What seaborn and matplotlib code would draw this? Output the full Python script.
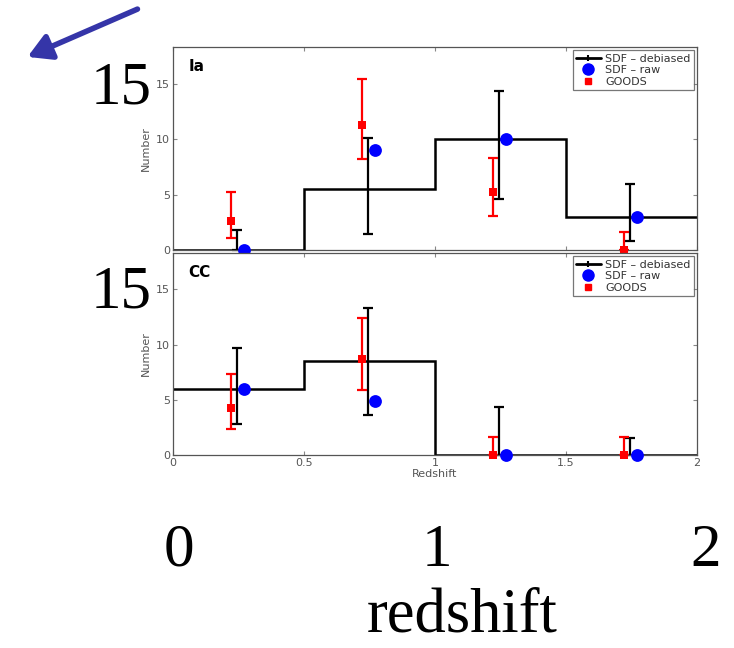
import matplotlib
matplotlib.use("Agg")
import matplotlib.pyplot as plt
import seaborn as sns
import numpy as np
import pandas as pd
from matplotlib.lines import Line2D

sns.set_style("ticks")
plt.rcParams['font.family'] = ['DejaVu Sans']

# ---- data ----
bin_edges = [0, 0.5, 1.0, 1.5, 2.0]
bin_centers = [0.25, 0.75, 1.25, 1.75]

# Ia panel
ia_debiased = [0.0, 5.5, 10.0, 3.0]
ia_deb_low = [0.0, 1.4, 4.6, 0.85]
ia_deb_high = [1.8, 10.1, 14.3, 5.95]
ia_raw = [0.0, 9.0, 10.0, 3.0]
ia_goods = [2.65, 11.3, 5.25, 0.0]
ia_goods_low = [1.1, 8.2, 3.1, 0.0]
ia_goods_high = [5.2, 15.4, 8.3, 1.6]

# CC panel
cc_debiased = [6.0, 8.5, 0.0, 0.0]
cc_deb_low = [2.85, 3.66, 0.0, 0.0]
cc_deb_high = [9.7, 13.35, 4.35, 1.56]
cc_raw = [6.0, 4.9, 0.0, 0.0]
cc_goods = [4.3, 8.7, 0.0, 0.0]
cc_goods_low = [2.35, 5.9, 0.0, 0.0]
cc_goods_high = [7.35, 12.45, 1.65, 1.65]

panel_labels = ["Ia", "CC"]
x_ticks = [0, 0.5, 1, 1.5, 2]
x_ticklabels = ["0", "0.5", "1", "1.5", "2"]
y_ticks = [0, 5, 10, 15]
legend_labels = ["SDF \u2013 debiased", "SDF \u2013 raw", "GOODS"]
overlay_x_labels = ["0", "1", "2"]

W, H = 734, 648
fig = plt.figure(figsize=(W / 100, H / 100), dpi=100)

def fx(px):
    return px / W

def fy(py):
    return 1 - py / H

ax_top = fig.add_axes([fx(173), fy(250), fx(697) - fx(173), fy(47) - fy(250)])
ax_bot = fig.add_axes([fx(173), fy(455), fx(697) - fx(173), fy(253) - fy(455)])

panels = [
    (ax_top, ia_debiased, ia_deb_low, ia_deb_high, ia_raw, ia_goods, ia_goods_low, ia_goods_high),
    (ax_bot, cc_debiased, cc_deb_low, cc_deb_high, cc_raw, cc_goods, cc_goods_low, cc_goods_high),
]

off_red, off_blk, off_blue = -0.03, -0.005, 0.02
tick_color = "#555555"

for i, (ax, deb, dlo, dhi, raw, gds, glo, ghi) in enumerate(panels):
    ax.stairs(deb, bin_edges, color="black", lw=1.8, baseline=None)
    xb = [c + off_blk for c in bin_centers]
    ax.errorbar(xb, deb, yerr=[np.array(deb) - np.array(dlo), np.array(dhi) - np.array(deb)],
                fmt="none", ecolor="black", elinewidth=1.6, capsize=3.5, capthick=1.6, clip_on=False)
    xr = [c + off_red for c in bin_centers]
    ax.errorbar(xr, gds, yerr=[np.array(gds) - np.array(glo), np.array(ghi) - np.array(gds)],
                fmt="none", ecolor="red", elinewidth=1.6, capsize=3.5, capthick=1.6, clip_on=False)
    df_g = pd.DataFrame({"x": xr, "y": gds})
    sns.scatterplot(data=df_g, x="x", y="y", ax=ax, marker="s", color="red", s=38,
                    edgecolor="red", linewidth=0, clip_on=False, zorder=5)
    df_r = pd.DataFrame({"x": [c + off_blue for c in bin_centers], "y": raw})
    sns.scatterplot(data=df_r, x="x", y="y", ax=ax, marker="o", color="blue", s=85,
                    edgecolor="blue", linewidth=0, clip_on=False, zorder=6)
    ax.set_xlim(0, 2)
    ax.set_ylim(0, 18.3)
    ax.set_xticks(x_ticks)
    ax.set_yticks(y_ticks)
    ax.tick_params(direction="in", top=True, right=True, length=3, labelsize=8,
                   labelcolor=tick_color, color="#888888", pad=2)
    ax.set_ylabel("Number", fontsize=8, color=tick_color, labelpad=4)
    ax.set_xlabel("")
    for s in ax.spines.values():
        s.set_color("#555555")
        s.set_linewidth(0.9)
    ax.text(0.03, 0.94, panel_labels[i], transform=ax.transAxes, fontsize=11,
            fontweight="bold", va="top", ha="left", color="black")
    handles = [
        Line2D([], [], color="black", lw=2, marker="|", markersize=5, markeredgewidth=1.5),
        Line2D([], [], color="blue", lw=0, marker="o", markersize=8),
        Line2D([], [], color="red", lw=0, marker="s", markersize=5),
    ]
    leg = ax.legend(handles, legend_labels, loc="upper right", fontsize=8, frameon=True,
                    fancybox=False, borderpad=0.3, labelspacing=0.15, handlelength=2.2,
                    handletextpad=0.4, borderaxespad=0.3)
    leg.get_frame().set_edgecolor("#555555")
    leg.get_frame().set_linewidth(0.9)
    for t in leg.get_texts():
        t.set_color("#333333")

ax_top.set_xticklabels([])
ax_bot.set_xticklabels(x_ticklabels)
ax_bot.set_xlabel("Redshift", fontsize=8, color=tick_color, labelpad=1)

# ---- slide overlays ----
serif = ["Liberation Serif", "DejaVu Serif"]
big = 44
fig.text(fx(121), fy(103), "15", family=serif, fontsize=big, ha="center", va="baseline", color="black")
fig.text(fx(121), fy(308), "15", family=serif, fontsize=big, ha="center", va="baseline", color="black")
for lab, px in zip(overlay_x_labels, [179, 437, 706]):
    fig.text(fx(px), fy(566), lab, family=serif, fontsize=big, ha="center", va="baseline", color="black")
fig.text(fx(462), fy(632), "redshift", family=serif, fontsize=45, ha="center", va="baseline", color="black")

fig.patches.append(matplotlib.patches.FancyArrowPatch(
    (fx(140), fy(8)), (fx(25), fy(58)), transform=fig.transFigure,
    arrowstyle="-|>,head_length=14,head_width=8", mutation_scale=1,
    color="#3535a8", lw=4))

fig.savefig("out.png", dpi=100)
